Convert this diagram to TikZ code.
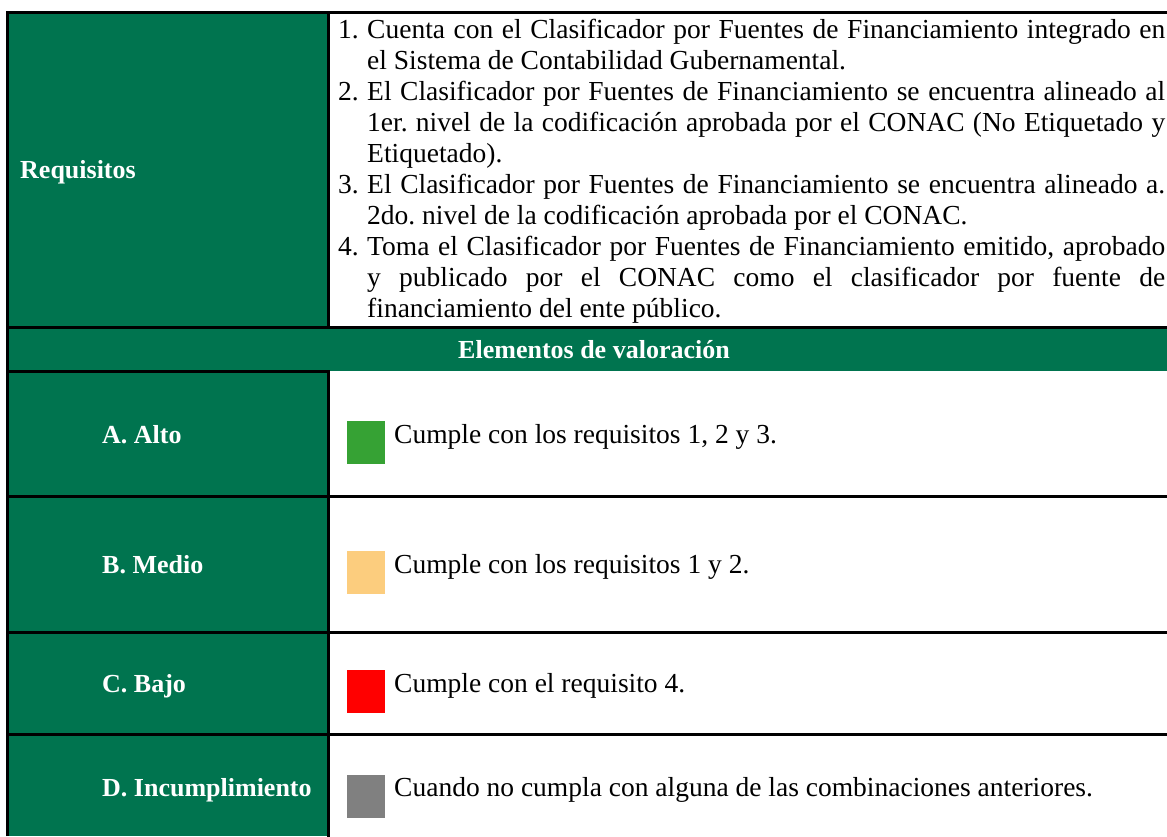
\documentclass[tikz,border=0pt]{standalone}
\usepackage{fontspec}
\setmainfont{Liberation Serif}
\usepackage{graphicx}
\frenchspacing
\definecolor{hdr}{RGB}{0,116,79}
\definecolor{sqA}{RGB}{54,162,52}
\definecolor{sqB}{RGB}{252,205,126}
\definecolor{sqC}{RGB}{255,0,0}
\definecolor{sqD}{RGB}{128,128,128}
\newlength\natw
\newcommand\jline[2]{\settowidth\natw{#2}\ifdim\natw>#1\relax\resizebox{#1}{\height}{#2}\else\makebox[#1][s]{#2}\fi}
\begin{document}
\begin{tikzpicture}[x=1pt,y=-1pt,
  body/.style={anchor=base west,inner sep=0pt,font=\fontsize{27.5}{31}\selectfont\frenchspacing,text=black},
  lab/.style={anchor=base west,inner sep=0pt,font=\fontsize{26}{30}\selectfont\bfseries,text=white},
  rule/.style={line width=3pt,draw=black,line cap=rect},
  swatch/.style={inner sep=0pt,minimum width=38pt,minimum height=43pt,draw=none}]
\useasboundingbox (0,0) rectangle (1167,836);
% fills
\fill[hdr] (7,12) rectangle (328,836);
\fill[hdr] (7,327) rectangle (1167,371);
% rules
\draw[rule,line cap=butt,line join=miter] (7,836) -- (7,12) -- (1167,12);
\draw[rule] (328,12) -- (328,327);
\draw[rule] (328,371) -- (328,836);
\draw[rule] (7,327) -- (1167,327);
\draw[rule] (7,371) -- (328,371);
\draw[rule] (7,496) -- (1167,496);
\draw[rule] (7,632) -- (1167,632);
\draw[rule] (7,734) -- (1167,734);
% left labels
\node[lab] (req) at (20,178) {Requisitos};
\node[lab,anchor=base] (elem) at (594,358) {Elementos de valoración};
\node[lab] (la) at (102,443) {A. Alto};
\node[lab] (lb) at (102,573) {B. Medio};
\node[lab] (lc) at (102,692) {C. Bajo};
\node[lab] (ld) at (102,796) {D. Incumplimiento};
% requisitos text
\node[body] (n1) at (338,38) {1.};
\node[body] (t1) at (367,38) {\jline{798pt}{Cuenta con el Clasificador por Fuentes de Financiamiento integrado en}};
\node[body] (t2) at (367,69) {el Sistema de Contabilidad Gubernamental.};
\node[body] (n2) at (338,100) {2.};
\node[body] (t3) at (367,100) {\jline{798pt}{El Clasificador por Fuentes de Financiamiento se encuentra alineado al}};
\node[body] (t4) at (367,131) {\jline{798pt}{1er. nivel de la codificación aprobada por el CONAC (No Etiquetado y}};
\node[body] (t5) at (367,162) {Etiquetado).};
\node[body] (n3) at (338,193) {3.};
\node[body] (t6) at (367,193) {\jline{798pt}{El Clasificador por Fuentes de Financiamiento se encuentra alineado a.}};
\node[body] (t7) at (367,224) {2do. nivel de la codificación aprobada por el CONAC.};
\node[body] (n4) at (338,255) {4.};
\node[body] (t8) at (367,255) {\jline{798pt}{Toma el Clasificador por Fuentes de Financiamiento emitido, aprobado}};
\node[body] (t9) at (367,286) {\jline{798pt}{y publicado por el CONAC como el clasificador por fuente de}};
\node[body] (t10) at (367,317) {financiamiento del ente público.};
% swatches
\node[swatch,fill=sqA,anchor=north west] (sa) at (347,421) {};
\node[swatch,fill=sqB,anchor=north west] (sb) at (347,551) {};
\node[swatch,fill=sqC,anchor=north west] (sc) at (347,670) {};
\node[swatch,fill=sqD,anchor=north west] (sd) at (347,775) {};
% descriptions
\node[body] (da) at (394,443) {Cumple con los requisitos 1, 2 y 3.};
\node[body] (db) at (394,573) {Cumple con los requisitos 1 y 2.};
\node[body] (dc) at (394,692) {Cumple con el requisito 4.};
\node[body] (dd) at (394,796) {Cuando no cumpla con alguna de las combinaciones anteriores.};
\end{tikzpicture}
\end{document}
